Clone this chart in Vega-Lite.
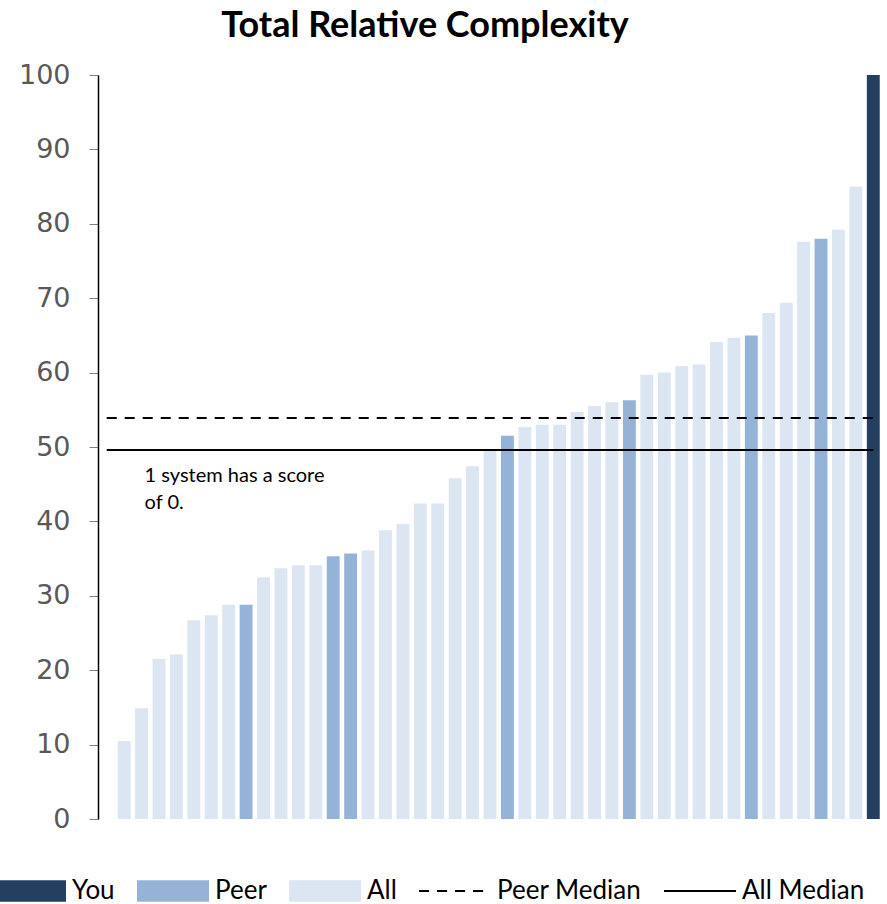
{
  "$schema": "https://vega.github.io/schema/vega-lite/v6.json",
  "width": 784,
  "height": 744,
  "autosize": {"type": "none"},
  "padding": {"left": 98, "top": 75, "right": 5, "bottom": 85},
  "background": "white",
  "title": {
    "text": "Total Relative Complexity",
    "font": "Lato",
    "fontSize": 36,
    "fontWeight": "bold",
    "color": "#000000",
    "anchor": "middle",
    "frame": "group",
    "dx": -65,
    "offset": 16
  },
  "config": {"view": {"stroke": null}},
  "datasets": {
    "systems": [
      {"rank": 1, "score": 0, "group": "All"},
      {"rank": 2, "score": 10.5, "group": "All"},
      {"rank": 3, "score": 14.9, "group": "All"},
      {"rank": 4, "score": 21.5, "group": "All"},
      {"rank": 5, "score": 22.1, "group": "All"},
      {"rank": 6, "score": 26.7, "group": "All"},
      {"rank": 7, "score": 27.4, "group": "All"},
      {"rank": 8, "score": 28.8, "group": "All"},
      {"rank": 9, "score": 28.8, "group": "Peer"},
      {"rank": 10, "score": 32.5, "group": "All"},
      {"rank": 11, "score": 33.7, "group": "All"},
      {"rank": 12, "score": 34.1, "group": "All"},
      {"rank": 13, "score": 34.1, "group": "All"},
      {"rank": 14, "score": 35.3, "group": "Peer"},
      {"rank": 15, "score": 35.7, "group": "Peer"},
      {"rank": 16, "score": 36.1, "group": "All"},
      {"rank": 17, "score": 38.8, "group": "All"},
      {"rank": 18, "score": 39.7, "group": "All"},
      {"rank": 19, "score": 42.4, "group": "All"},
      {"rank": 20, "score": 42.4, "group": "All"},
      {"rank": 21, "score": 45.8, "group": "All"},
      {"rank": 22, "score": 47.4, "group": "All"},
      {"rank": 23, "score": 49.6, "group": "All"},
      {"rank": 24, "score": 51.5, "group": "Peer"},
      {"rank": 25, "score": 52.7, "group": "All"},
      {"rank": 26, "score": 53.0, "group": "All"},
      {"rank": 27, "score": 53.0, "group": "All"},
      {"rank": 28, "score": 54.7, "group": "All"},
      {"rank": 29, "score": 55.5, "group": "All"},
      {"rank": 30, "score": 56.0, "group": "All"},
      {"rank": 31, "score": 56.3, "group": "Peer"},
      {"rank": 32, "score": 59.7, "group": "All"},
      {"rank": 33, "score": 60.0, "group": "All"},
      {"rank": 34, "score": 60.9, "group": "All"},
      {"rank": 35, "score": 61.1, "group": "All"},
      {"rank": 36, "score": 64.1, "group": "All"},
      {"rank": 37, "score": 64.7, "group": "All"},
      {"rank": 38, "score": 65.0, "group": "Peer"},
      {"rank": 39, "score": 68.0, "group": "All"},
      {"rank": 40, "score": 69.4, "group": "All"},
      {"rank": 41, "score": 77.6, "group": "All"},
      {"rank": 42, "score": 78.0, "group": "Peer"},
      {"rank": 43, "score": 79.2, "group": "All"},
      {"rank": 44, "score": 85.0, "group": "All"},
      {"rank": 45, "score": 100, "group": "You"}
    ],
    "medians": [
      {"series": "Peer Median", "score": 53.9, "first": 1, "last": 45},
      {"series": "All Median", "score": 49.6, "first": 1, "last": 45}
    ],
    "notes": [
      {"rank": 3, "score": 47.4, "note": ["1 system has a score", "of 0."]}
    ]
  },
  "layer": [
    {
      "data": {"name": "systems"},
      "mark": {"type": "bar"},
      "encoding": {
        "x": {
          "field": "rank",
          "type": "ordinal",
          "axis": null,
          "scale": {"paddingInner": 0.26, "paddingOuter": 0.13}
        },
        "y": {
          "field": "score",
          "type": "quantitative",
          "scale": {"domain": [0, 100], "nice": false},
          "axis": {
            "title": null,
            "values": [0, 10, 20, 30, 40, 50, 60, 70, 80, 90, 100],
            "grid": false,
            "domainColor": "#000000",
            "domainWidth": 1.5,
            "tickColor": "#808080",
            "tickWidth": 1,
            "tickSize": 9,
            "labelFont": "DejaVu Sans",
            "labelFontSize": 27,
            "labelColor": "#595959",
            "labelPadding": 19
          }
        },
        "color": {
          "field": "group",
          "type": "nominal",
          "scale": {
            "domain": ["You", "Peer", "All", "Peer Median", "All Median"],
            "range": ["#243F60", "#95B3D7", "#DCE6F2", "#000000", "#000000"]
          },
          "legend": {
            "title": null,
            "orient": "none",
            "legendX": -104,
            "legendY": 780,
            "direction": "horizontal",
            "columns": 5,
            "padding": 0,
            "symbolSize": 5184,
            "symbolStrokeWidth": 0,
            "symbolOpacity": 1,
            "labelFont": "Lato",
            "labelFontSize": 26,
            "labelColor": "#000000",
            "labelOffset": 6,
            "columnPadding": 22,
            "encode": {
              "symbols": {
                "update": {
                  "shape": {
                    "signal": "datum.value === 'Peer Median' ? 'M-1,-0.03H-0.72V0.03H-1Z M-0.5,-0.03H-0.22V0.03H-0.5Z M0,-0.03H0.28V0.03H0Z M0.5,-0.03H0.78V0.03H0.5Z' : datum.value === 'All Median' ? 'M-1,-0.03H1V0.03H-1Z' : 'M-1,-0.3H1V0.3H-1Z'"
                  }
                }
              }
            }
          }
        }
      }
    },
    {
      "data": {"name": "medians"},
      "mark": {"type": "rule", "strokeWidth": 2, "color": "#000000"},
      "encoding": {
        "x": {"field": "first", "type": "ordinal"},
        "x2": {"field": "last"},
        "y": {"field": "score", "type": "quantitative"},
        "strokeDash": {
          "field": "series",
          "type": "nominal",
          "scale": {"domain": ["Peer Median", "All Median"], "range": [[10, 8], [1, 0]]},
          "legend": null
        }
      }
    },
    {
      "data": {"name": "notes"},
      "mark": {
        "type": "text",
        "align": "left",
        "baseline": "top",
        "font": "Lato",
        "fontSize": 20,
        "lineHeight": 27,
        "color": "#000000",
        "dx": 3
      },
      "encoding": {
        "x": {"field": "rank", "type": "ordinal"},
        "y": {"field": "score", "type": "quantitative"},
        "text": {"field": "note"}
      }
    }
  ]
}
